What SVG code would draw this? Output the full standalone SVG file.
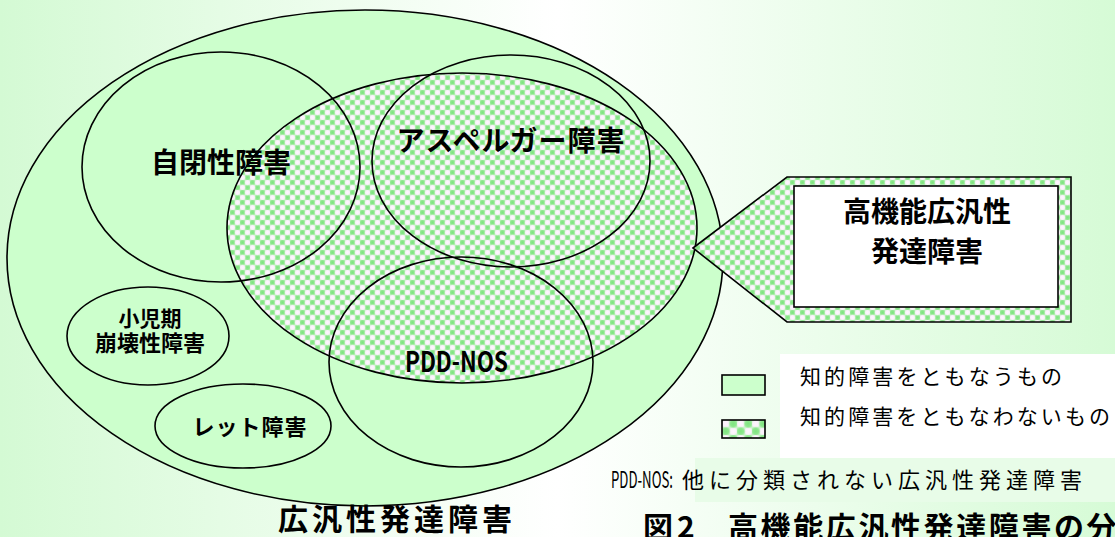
<svg xmlns="http://www.w3.org/2000/svg" width="1115" height="537" viewBox="0 0 1115 537">
<defs>
<linearGradient id="bg" x1="0" y1="0" x2="1" y2="0">
<stop offset="0" stop-color="#d4fad4"/>
<stop offset="0.5" stop-color="#ffffff"/>
<stop offset="1" stop-color="#d6fbd6"/>
</linearGradient>
<radialGradient id="gdot">
<stop offset="0" stop-color="#7fe47f"/>
<stop offset="0.55" stop-color="#8ee88e"/>
<stop offset="1" stop-color="#8ee88e" stop-opacity="0"/>
</radialGradient>
<radialGradient id="wdot">
<stop offset="0" stop-color="#fff6ff"/>
<stop offset="0.55" stop-color="#fbf2fb"/>
<stop offset="1" stop-color="#fbf2fb" stop-opacity="0"/>
</radialGradient>
<pattern id="dots" width="10" height="10" patternUnits="userSpaceOnUse">
<rect width="10" height="10" fill="#c8f4c8"/>
<circle cx="2.5" cy="2.5" r="3.4" fill="url(#gdot)"/>
<circle cx="7.5" cy="7.5" r="3.4" fill="url(#gdot)"/>
<circle cx="7.5" cy="2.5" r="3.4" fill="url(#wdot)"/>
<circle cx="2.5" cy="7.5" r="3.4" fill="url(#wdot)"/>
</pattern>
<pattern id="dotsL" width="10" height="10" patternUnits="userSpaceOnUse" patternTransform="translate(722,420) scale(1.5)">
<rect width="10" height="10" fill="#c8f4c8"/>
<circle cx="2.5" cy="2.5" r="3.4" fill="url(#wdot)"/>
<circle cx="7.5" cy="7.5" r="3.4" fill="url(#wdot)"/>
<circle cx="7.5" cy="2.5" r="3.4" fill="url(#gdot)"/>
<circle cx="2.5" cy="7.5" r="3.4" fill="url(#gdot)"/>
</pattern>
<style>
.ln{fill:none;stroke:#000;stroke-width:1.6}
.lbl{font-family:"Noto Sans CJK JP","Noto Sans",sans-serif;font-weight:bold;fill:#000}
.reg{font-family:"Noto Sans CJK JP","Noto Sans",sans-serif;fill:#000}
</style>
</defs>
<rect width="1115" height="537" fill="url(#bg)"/>
<rect x="780" y="354" width="335" height="104" fill="#ffffff"/>
<rect x="695" y="458" width="420" height="44" fill="#e8fce8"/>

<g id="pdd-outer">
<ellipse cx="365" cy="258" rx="358" ry="248" fill="#ccffcc" stroke="#000" stroke-width="1.6"/>
</g>
<g id="high-functioning">
<ellipse cx="462" cy="228" rx="235" ry="155" fill="url(#dots)" stroke="#000" stroke-width="1.6"/>
</g>
<g id="autism">
<ellipse cx="221" cy="167" rx="139" ry="115" class="ln"/>
<text x="221" y="173" font-size="28" text-anchor="middle" class="lbl">自閉性障害</text>
</g>
<g id="asperger">
<ellipse cx="511" cy="161" rx="139" ry="106" class="ln"/>
<text x="511" y="151" font-size="28" letter-spacing="1" text-anchor="middle" class="lbl">アスペルガー障害</text>
</g>
<g id="pddnos">
<ellipse cx="461" cy="362" rx="132" ry="105" class="ln"/>
<text x="405" y="372" font-size="28" textLength="103" lengthAdjust="spacingAndGlyphs" class="lbl">PDD-NOS</text>
</g>
<g id="cdd">
<ellipse cx="148" cy="336" rx="81" ry="49" class="ln"/>
<text x="150" y="326" font-size="21" text-anchor="middle" class="lbl">小児期</text>
<text x="150" y="351" font-size="22" text-anchor="middle" class="lbl">崩壊性障害</text>
</g>
<g id="rett">
<ellipse cx="243" cy="426" rx="88" ry="42" class="ln"/>
<text x="250" y="435" font-size="22" letter-spacing="1" text-anchor="middle" class="lbl">レット障害</text>
</g>
<g id="pdd-label">
<text x="278" y="530" font-size="30" letter-spacing="4" class="lbl">広汎性発達障害</text>
</g>

<g id="callout">
<polygon points="693,248 787,177 1071,177 1071,322 787,322" fill="url(#dots)" stroke="#000" stroke-width="1.6"/>
<rect x="794" y="186" width="264" height="121" fill="#ffffff" stroke="#000" stroke-width="1.6"/>
<text x="927" y="222" font-size="28" text-anchor="middle" class="lbl">高機能広汎性</text>
<text x="927" y="262" font-size="28" text-anchor="middle" class="lbl">発達障害</text>
</g>

<g id="legend">
<rect x="722" y="375" width="43" height="20" fill="#ccffcc" stroke="#000" stroke-width="1.6"/>
<rect x="722" y="420" width="43" height="18" fill="url(#dotsL)" stroke="#000" stroke-width="1.6"/>
<text x="800" y="384" font-size="21" textLength="262" lengthAdjust="spacing" class="reg">知的障害をともなうもの</text>
<text x="800" y="424" font-size="21" textLength="310" lengthAdjust="spacing" class="reg">知的障害をともなわないもの</text>
</g>

<g id="notes">
<text x="611" y="488" font-size="23" textLength="62" lengthAdjust="spacingAndGlyphs" class="reg">PDD-NOS:</text>
<text x="682" y="488" font-size="22" textLength="400" lengthAdjust="spacing" class="reg">他に分類されない広汎性発達障害</text>
<text x="643" y="538" font-size="30" letter-spacing="4" class="lbl">図2</text>
<text x="728" y="538" font-size="30" letter-spacing="2.6" class="lbl">高機能広汎性発達障害の分</text>
</g>
<g id="connectors"></g>
</svg>
